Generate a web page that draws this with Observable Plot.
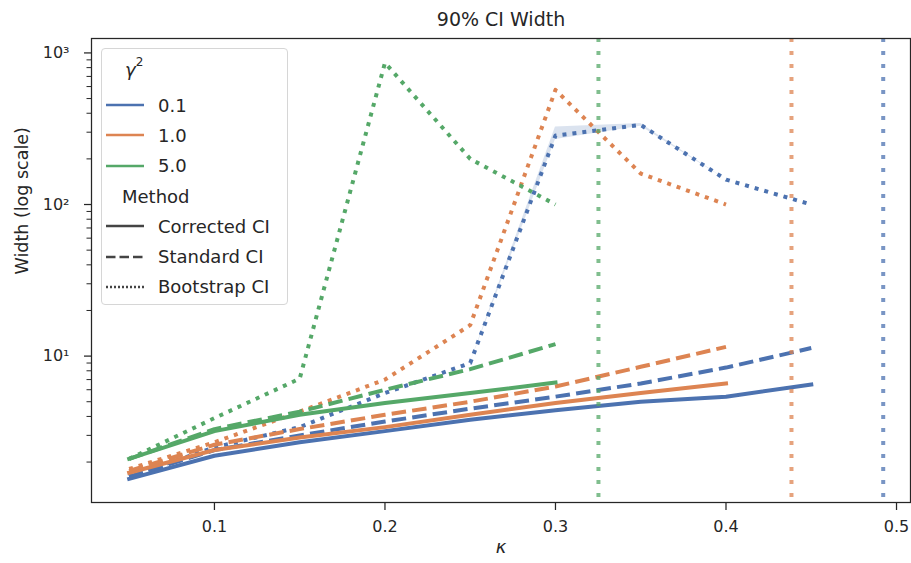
<!DOCTYPE html>
<html><head><meta charset="utf-8">
<script src="https://cdn.jsdelivr.net/npm/d3@7"></script>
<script src="https://cdn.jsdelivr.net/npm/@observablehq/plot@0.6"></script>
<style>
body{margin:0;background:#fff;font-family:"DejaVu Sans",sans-serif;}
#wrap{position:relative;width:911px;height:563px;}
#legend{position:absolute;left:101px;top:48px;width:187px;height:257px;border:1px solid #d6d6d6;border-radius:4px;background:rgba(255,255,255,0.8);box-sizing:border-box;color:#262626;font-size:18px;font-family:"DejaVu Sans",sans-serif;}
.row{display:flex;align-items:center;height:30.3px;white-space:nowrap;}
.row.first{height:41px;}
.sw{width:38px;height:10px;margin-left:4px;margin-right:14px;flex:none;}
.ttl{padding-left:20px;}
</style></head><body><div id="wrap"><div id="legend"></div></div>
<script>
// ---- data ----
const kappa = [0.05, 0.1, 0.15, 0.2, 0.25, 0.3, 0.35, 0.4, 0.45];
const gammaLevels = ["0.1", "1.0", "5.0"];
const methods = ["Corrected CI", "Standard CI", "Bootstrap CI"];

const correctedG01 = [1.55, 2.2, 2.7, 3.2, 3.8, 4.4, 5.0, 5.4, 6.5];
const standardG01  = [1.6, 2.4, 3.0, 3.7, 4.5, 5.4, 6.6, 8.4, 11.3];
const bootstrapG01 = [1.6, 2.5, 3.4, 5.7, 9.0, 285, 335, 146, 100];
const bootLoG01    = [1.6, 2.5, 3.4, 5.7, 9.0, 268, 328, 146, 100];
const bootHiG01    = [1.6, 2.5, 3.4, 5.7, 9.0, 325, 342, 146, 100];

const correctedG1 = [1.7, 2.4, 2.9, 3.4, 4.1, 4.9, 5.7, 6.6];
const standardG1  = [1.75, 2.6, 3.3, 4.1, 5.0, 6.3, 8.5, 11.5];
const bootstrapG1 = [1.8, 2.7, 4.3, 7.0, 16, 570, 160, 100];

const correctedG5 = [2.1, 3.2, 4.1, 4.9, 5.7, 6.7];
const standardG5  = [2.1, 3.3, 4.3, 6.0, 8.2, 12.0];
const bootstrapG5 = [2.1, 3.9, 7.1, 860, 200, 100];

const thresholdKappa = [0.4922, 0.4384, 0.3252];

const xTickLabels = ["0.1", "0.2", "0.3", "0.4", "0.5"];
const yTickLabels = ["10\u00b9", "10\u00b2", "10\u00b3"];
const titleText = "90% CI Width";
const xLabelText = "\u03ba";
const yLabelText = "Width (log scale)";
const legendTitle1 = "\u03b3";
const legendTitle2 = "Method";

// ---- styling ----
const palette = ["#4c72b0", "#dd8452", "#55a868"];
const dashes = {"Corrected CI": null, "Standard CI": "14.5,6.2", "Bootstrap CI": "4,6"};
const legendDashes = {"Corrected CI": null, "Standard CI": "9.5,4", "Bootstrap CI": "2,2"};
const ink = "#262626";

const series = [
  {gamma: "0.1", method: "Corrected CI", values: correctedG01},
  {gamma: "0.1", method: "Standard CI", values: standardG01},
  {gamma: "0.1", method: "Bootstrap CI", values: bootstrapG01},
  {gamma: "1.0", method: "Corrected CI", values: correctedG1},
  {gamma: "1.0", method: "Standard CI", values: standardG1},
  {gamma: "1.0", method: "Bootstrap CI", values: bootstrapG1},
  {gamma: "5.0", method: "Corrected CI", values: correctedG5},
  {gamma: "5.0", method: "Standard CI", values: standardG5},
  {gamma: "5.0", method: "Bootstrap CI", values: bootstrapG5}
];
const band = kappa.map((k, i) => ({kappa: k, lo: bootLoG01[i], hi: bootHiG01[i], gamma: "0.1"}));
const thresholds = gammaLevels.map((g, i) => ({gamma: g, kappa: thresholdKappa[i]}));

const xTickValues = xTickLabels.map(Number);
const yTickValues = [10, 100, 1000];
const minorY = [];
for (const dec of [1, 10, 100]) for (let m = 2; m <= 9; m++) minorY.push(m * dec);

const lineMarks = series.map(s => Plot.line(
  s.values.map((v, i) => ({kappa: kappa[i], width: v, gamma: s.gamma})),
  {x: "kappa", y: "width", stroke: "gamma", strokeWidth: 4,
   strokeDasharray: dashes[s.method],
   strokeLinecap: s.method === "Corrected CI" ? "square" : "butt",
   strokeLinejoin: "round"}
));

const chart = Plot.plot({
  width: 911, height: 563,
  marginLeft: 91, marginRight: 1, marginTop: 38, marginBottom: 61,
  style: {fontFamily: "DejaVu Sans, sans-serif", fontSize: "16px", color: ink, background: "white"},
  x: {type: "linear", domain: [0.0279, 0.5082]},
  y: {type: "log", domain: [1.082, 1245]},
  color: {domain: gammaLevels, range: palette},
  marks: [
    Plot.areaY(band, {x: "kappa", y1: "lo", y2: "hi", fill: "gamma", fillOpacity: 0.2}),
    ...lineMarks,
    Plot.ruleX(thresholds, {x: "kappa", stroke: "gamma", strokeWidth: 4, strokeDasharray: "4,9", strokeOpacity: 0.75}),
    Plot.axisX(xTickValues, {tickSize: 8, tickPadding: 10, strokeWidth: 1.25,
      tickFormat: d => xTickLabels[xTickValues.indexOf(d)], fontSize: 16, label: null}),
    Plot.axisY(yTickValues, {tickSize: 7, tickPadding: 15, strokeWidth: 1.25,
      tickFormat: d => yTickLabels[yTickValues.indexOf(d)], fontSize: 16, label: null}),
    Plot.axisY(minorY, {tickSize: 4.5, strokeWidth: 1, tickFormat: () => "", label: null}),
    Plot.frame({stroke: ink, strokeWidth: 1.25}),
    Plot.text([titleText], {text: d => d, frameAnchor: "top", lineAnchor: "middle", dy: -19, fontSize: 19, fill: ink}),
    Plot.text([xLabelText], {text: d => d, frameAnchor: "bottom", lineAnchor: "middle", dy: 45, fontSize: 18, fontStyle: "italic", fill: ink}),
    Plot.text([yLabelText], {text: d => d, frameAnchor: "left", rotate: -90, dx: -69, dy: 4, lineAnchor: "middle", fontSize: 17.5, fill: ink})
  ]
});
const wrap = document.getElementById("wrap");
wrap.insertBefore(chart, wrap.firstChild);

// ---- legend ----
const lg = document.getElementById("legend");
function swatch(color, dash) {
  return `<svg class="sw" viewBox="0 0 38 10"><line x1="0" y1="5" x2="38" y2="5" stroke="${color}" stroke-width="2.4"${dash ? ` stroke-dasharray="${dash}"` : ""}/></svg>`;
}
let html = `<div class="row first ttl"><span style="font-style:italic;padding-left:3px">${legendTitle1}</span><span style="font-size:12px;position:relative;top:-8px">2</span></div>`;
gammaLevels.forEach((g, i) => { html += `<div class="row">${swatch(palette[i], null)}<span>${g}</span></div>`; });
html += `<div class="row ttl"><span>${legendTitle2}</span></div>`;
methods.forEach(m => { html += `<div class="row">${swatch("#444", legendDashes[m])}<span>${m}</span></div>`; });
lg.innerHTML = html;
</script>
</body></html>
